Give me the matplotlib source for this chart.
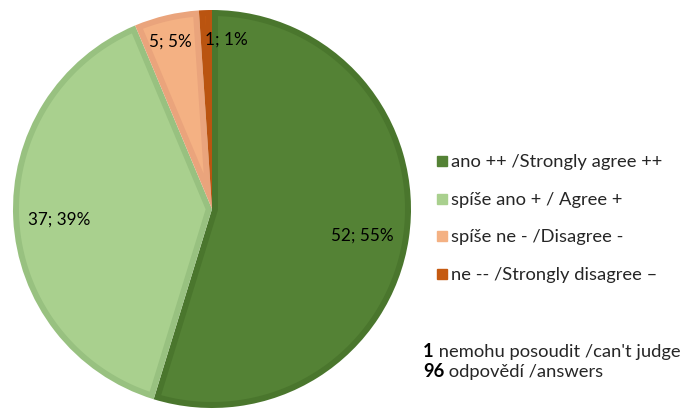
import matplotlib
matplotlib.use("Agg")
import matplotlib.pyplot as plt
from matplotlib.patches import Polygon
import numpy as np

categories = ["ano ++ /Strongly agree ++", "spíše ano + / Agree +",
              "spíše ne - /Disagree -", "ne -- /Strongly disagree –"]
values = [52, 37, 5, 1]
colors = ["#548235", "#A9D08E", "#F4B183", "#C55A11"]
edge_colors = ["#4A762D", "#98C180", "#EAA47C", "#BA5410"]
note_counts = ["1", "96"]
note_texts = [" nemohu posoudit /can't judge", " odpovědí /answers"]

plt.rcParams['font.family'] = ['Lato', 'DejaVu Sans']

W, H = 692, 410
fig = plt.figure(figsize=(W / 100, H / 100), dpi=100)
cx, cy, R = 212, 210, 199
ax = fig.add_axes([(cx - R) / W, (H - cy - R) / H, 2 * R / W, 2 * R / H])
wedges, _ = ax.pie(values, colors=edge_colors, startangle=90, counterclock=False,
                   radius=1, wedgeprops=dict(linewidth=0))

# inner fill (inset by border width) to mimic the shaded slice borders
d = 6.0 / R
for w, fc in zip(wedges, colors):
    t1, t2 = np.deg2rad(w.theta1), np.deg2rad(w.theta2)
    span = t2 - t1
    ro = 1 - d
    delta = np.arcsin(d / ro)
    arc = np.linspace(t1 + delta, t2 - delta, 200)
    pts = [(ro * np.cos(a), ro * np.sin(a)) for a in arc]
    mid = (t1 + t2) / 2
    if span < np.pi:
        rv = d / np.sin(span / 2)
        pts.append((rv * np.cos(mid), rv * np.sin(mid)))
    else:
        small = np.linspace(t2 - np.pi / 2, t1 + np.pi / 2, 20)
        pts += [(d * np.cos(a), d * np.sin(a)) for a in small]
    ax.add_patch(Polygon(pts, closed=True, facecolor=fc, edgecolor='none'))

ax.set_xlim(-1, 1)
ax.set_ylim(-1, 1)
ax.set_aspect('equal')
ax.axis('off')

total = sum(values)
# label placement (radius, angle in degrees)
label_pos = [(0.765, -9.5), (0.77, -176.3), (0.87, 104.0), (0.857, 85.3)]
for v, (r, a) in zip(values, label_pos):
    t = np.deg2rad(a)
    ax.text(r * np.cos(t), r * np.sin(t), f"{v}; {round(100 * v / total)}%",
            ha='center', va='center', fontsize=12.3, color='#000000')

# legend
for i, (cat, c) in enumerate(zip(categories, colors)):
    yc = 162 + i * 37.7
    fig.patches.append(plt.Rectangle((437 / W, (H - yc - 5) / H), 10 / W, 10 / H,
                                     transform=fig.transFigure, color=c, figure=fig))
    fig.text(451 / W, (H - yc) / H, cat, ha='left', va='center', fontsize=13.2,
             color='#262626')

# notes
for i, (n, t) in enumerate(zip(note_counts, note_texts)):
    yc = 352 + i * 20
    tx = fig.text(423 / W, (H - yc) / H, n, ha='left', va='center', fontsize=13.2,
                  color='#000000', fontweight='bold')
    fig.canvas.draw()
    bb = tx.get_window_extent()
    fig.text(bb.x1 / W, (H - yc) / H, t, ha='left', va='center', fontsize=13.2,
             color='#262626')

fig.savefig("out.png", dpi=100)
